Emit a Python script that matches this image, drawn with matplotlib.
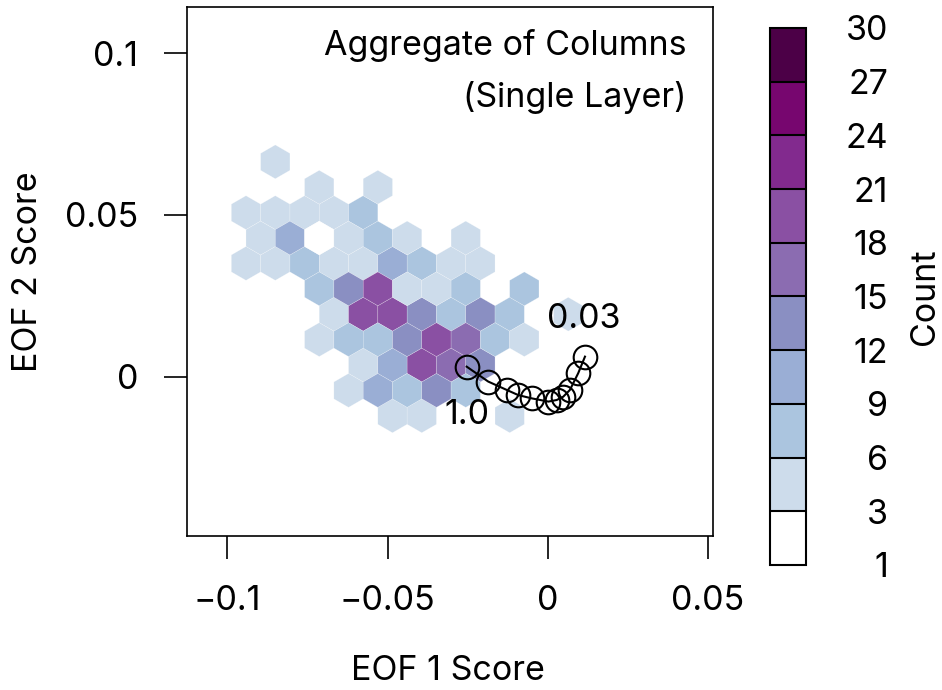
import numpy as np
import matplotlib
matplotlib.use("Agg")
import matplotlib.pyplot as plt
from matplotlib.colors import ListedColormap, BoundaryNorm
import matplotlib.cm as cm

plt.rcParams['font.family'] = ['Inter', 'DejaVu Sans']

# ---------------- data ----------------
# hexagon bin centres (EOF 1, EOF 2) and counts, row by row from top
hex_x = [
    -0.0850,
    -0.0713, -0.0530,
    -0.0942, -0.0850, -0.0759, -0.0668, -0.0576,
    -0.0896, -0.0805, -0.0713, -0.0622, -0.0530, -0.0439, -0.0256,
    -0.0942, -0.0850, -0.0759, -0.0668, -0.0576, -0.0485, -0.0393, -0.0302, -0.0210,
    -0.0713, -0.0622, -0.0530, -0.0439, -0.0347, -0.0256, -0.0073,
    -0.0668, -0.0576, -0.0485, -0.0393, -0.0302, -0.0210, -0.0119, 0.0064,
    -0.0713, -0.0622, -0.0530, -0.0439, -0.0347, -0.0256, -0.0164, -0.0073,
    -0.0576, -0.0485, -0.0393, -0.0302, -0.0210,
    -0.0622, -0.0530, -0.0439, -0.0347, -0.0256,
    -0.0485, -0.0393, -0.0119,
]
hex_y = (
    [0.0664] * 1 +
    [0.0586] * 2 +
    [0.0507] * 5 +
    [0.0429] * 7 +
    [0.0350] * 9 +
    [0.0272] * 7 +
    [0.0193] * 8 +
    [0.0115] * 8 +
    [0.0036] * 5 +
    [-0.0042] * 5 +
    [-0.0121] * 3
)
hex_count = [
    4,
    4, 4,
    4, 4, 4, 4, 7,
    4, 10, 2, 4, 7, 4, 4,
    4, 4, 7, 4, 4, 10, 7, 4, 4,
    7, 13, 19, 4, 4, 7, 7,
    4, 19, 19, 13, 7, 13, 7, 4,
    4, 7, 7, 13, 19, 16, 7, 4,
    4, 10, 19, 16, 13,
    4, 10, 7, 13, 7,
    4, 4, 4,
]

# aggregate path
path_x = [-0.0253, -0.0186, -0.0128, -0.0092, -0.0050, 0.0002, 0.0028, 0.0048, 0.0069, 0.0095, 0.0116]
path_y = [0.0031, -0.0015, -0.0041, -0.0057, -0.0067, -0.0077, -0.0072, -0.0062, -0.0041, 0.0011, 0.0062]
path_label_text = ['1.0', '0.03']
path_label_x = [-0.0251, 0.0113]
path_label_y = [-0.0118, 0.0178]

count_bounds = [1, 3, 6, 9, 12, 15, 18, 21, 24, 27, 30]
x_ticks = [-0.1, -0.05, 0, 0.05]
x_tick_labels = ['\u22120.1', '\u22120.05', '0', '0.05']
y_ticks = [0, 0.05, 0.1]
y_tick_labels = ['0', '0.05', '0.1']

# hexagon binning grid (12 x 5 hexbin lattice)
hex_gridsize = (12, 5)
hex_extent = (-0.09417, 0.015534, -0.0121, 0.06644)

# ---------------- style ----------------
bin_colors = ['#FFFFFF', '#CDDCEB', '#ABC5DF', '#9AAED5', '#8A8FC2',
              '#8B6CB1', '#8A50A3', '#822A8E', '#77066F', '#4C0047']
cmap = ListedColormap(bin_colors)
norm = BoundaryNorm(count_bounds, cmap.N)
FS = 24.5

fig = plt.figure(figsize=(9.42, 6.90), dpi=100)
ax = fig.add_axes([0.1982, 0.2232, 0.5590, 0.7662])

ax.hexbin(hex_x, hex_y, C=hex_count, reduce_C_function=np.sum,
          gridsize=hex_gridsize, extent=hex_extent, cmap=cmap, norm=norm,
          edgecolors=(1, 1, 1, 0.45), linewidths=0.3, zorder=1)

ax.plot(path_x, path_y, '-o', color='black', lw=1.5, ms=17,
        mfc='none', mec='black', mew=1.5, zorder=3)
for t, x, y in zip(path_label_text, path_label_x, path_label_y):
    ax.text(x, y, t, ha='center', va='center', fontsize=FS, zorder=4)

ax.set_xlim(-0.11267, 0.05164)
ax.set_ylim(-0.04926, 0.11422)
ax.set_xticks(x_ticks)
ax.set_xticklabels(x_tick_labels)
ax.set_yticks(y_ticks)
ax.set_yticklabels(y_tick_labels)
ax.tick_params(direction='out', length=16.6, width=1.2, pad=18.5,
               labelsize=FS, colors='black')
for s in ax.spines.values():
    s.set_linewidth(1.2)

ax.set_xlabel('EOF 1 Score', fontsize=FS)
ax.xaxis.set_label_coords(0.496, -0.255)
ax.xaxis.label.set_va('center')
ax.set_ylabel('EOF 2 Score', fontsize=FS)
ax.yaxis.set_label_coords(-0.302, 0.5)
ax.yaxis.label.set_va('center')

ax.text(0.9495, 0.9098, 'Aggregate of Columns', transform=ax.transAxes,
        ha='right', va='baseline', fontsize=FS)
ax.text(0.9495, 0.8114, '(Single Layer)', transform=ax.transAxes,
        ha='right', va='baseline', fontsize=FS)

# colour bar
cax = fig.add_axes([0.8174, 0.1812, 0.0379, 0.7783])
sm = cm.ScalarMappable(norm=norm, cmap=cmap)
cb = fig.colorbar(sm, cax=cax, ticks=count_bounds, drawedges=True)
cb.outline.set_linewidth(1.5)
cb.dividers.set_linewidth(1.5)
cb.dividers.set_color('black')
cax.tick_params(length=0, pad=59.3, labelsize=FS)
cax.set_yticklabels([str(v) for v in count_bounds])
for t in cax.get_yticklabels():
    t.set_ha('right')
fig.text(925 / 942, 1 - 296.5 / 690, 'Count', rotation=90,
         ha='center', va='center', fontsize=FS)

fig.savefig('out.png', dpi=100)
